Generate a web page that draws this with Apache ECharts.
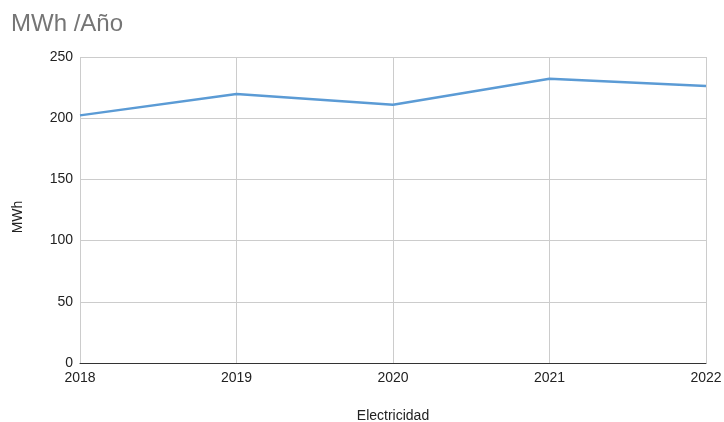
<!DOCTYPE html>
<html>
<head>
<meta charset="utf-8">
<script src="https://cdn.jsdelivr.net/npm/echarts@6/dist/echarts.min.js"></script>
<style>
  html, body { margin: 0; padding: 0; background: #fff; }
  #main { width: 724px; height: 422px; }
</style>
</head>
<body>
<div id="main"></div>
<script>
const years = ['2018', '2019', '2020', '2021', '2022']
const mwh = [202.3, 219.8, 211, 232.3, 226.3]
const font = 'Arial, "Liberation Sans", sans-serif'

const chart = echarts.init(document.getElementById('main'))
chart.setOption({
    animation: false,
    title: {
        text: 'MWh /Año',
        left: 6,
        top: 7,
        textStyle: { color: '#757575', fontSize: 24, fontWeight: 'normal', fontFamily: font }
    },
    grid: { left: 80, right: 18, top: 57, bottom: 59, outerBoundsMode: 'none', containLabel: false },
    xAxis: {
        type: 'category',
        boundaryGap: false,
        data: years,
        name: 'Electricidad',
        nameLocation: 'middle',
        nameGap: 46,
        nameTextStyle: { color: '#222', fontSize: 14, fontFamily: font },
        axisLine: { lineStyle: { color: '#333', width: 1 } },
        axisTick: { show: false },
        axisLabel: { color: '#222', fontSize: 14, fontFamily: font, margin: 8 },
        splitLine: { show: true, lineStyle: { color: '#ccc' } }
    },
    yAxis: {
        type: 'value',
        min: 0,
        max: 250,
        interval: 50,
        name: 'MWh',
        nameLocation: 'middle',
        nameRotate: 90,
        nameGap: 55,
        nameTextStyle: { color: '#222', fontSize: 14, fontFamily: font, padding: [0, 14, 0, 0] },
        axisLine: { show: false },
        axisTick: { show: false },
        axisLabel: { color: '#222', fontSize: 14, fontFamily: font, margin: 7 },
        splitLine: { lineStyle: { color: '#ccc' } }
    },
    series: [{
        type: 'line',
        data: mwh,
        showSymbol: false,
        lineStyle: { color: '#5b9bd5', width: 2.5 }
    }]
})
</script>
</body>
</html>
